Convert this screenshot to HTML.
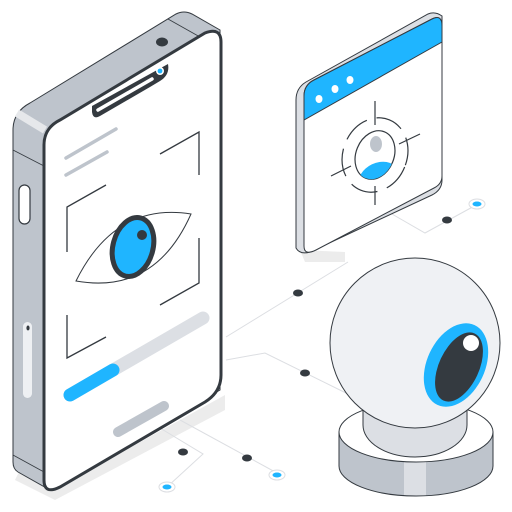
<!DOCTYPE html>
<html><head><style>html,body{margin:0;padding:0;background:#fff}svg{display:block}</style></head>
<body>
<svg width="512" height="512" viewBox="0 0 512 512" xmlns="http://www.w3.org/2000/svg">
<!-- shadows -->
<path d="M20 470 L50 492 L225 395 L225 410 L55 500 L15 480 Z" fill="#ececec"/>
<path d="M300 250 L345 252 L345 262 L305 262 Z" fill="#ececec"/>
<!-- connectors -->
<g fill="none" stroke="#dcdee2" stroke-width="1">
<path d="M226 337 L348 262"/>
<path d="M226 360 L265 353 L350 395"/>
<path d="M155 425 L203 454 L167 487"/>
<path d="M180 420 L277 473"/>
<path d="M385 210 L425 233 L478 204"/>
</g>
<g fill="#343a40"><ellipse cx="298" cy="293" rx="5" ry="3.5"/><ellipse cx="305" cy="373" rx="5" ry="3.5"/><ellipse cx="183" cy="452" rx="5" ry="3.5"/><ellipse cx="247" cy="458" rx="5" ry="3.5"/><ellipse cx="447" cy="220" rx="5" ry="3.5"/></g>
<g><ellipse cx="167" cy="487" rx="8" ry="5" fill="#fff" stroke="#dcdee2"/><ellipse cx="167" cy="487" rx="4.5" ry="2.5" fill="#1fb5ff"/>
<ellipse cx="277" cy="475" rx="8" ry="5" fill="#fff" stroke="#dcdee2"/><ellipse cx="277" cy="475" rx="4.5" ry="2.5" fill="#1fb5ff"/>
<ellipse cx="477" cy="204" rx="8" ry="5" fill="#fff" stroke="#dcdee2"/><ellipse cx="477" cy="204" rx="4.5" ry="2.5" fill="#1fb5ff"/></g>
<!-- phone body -->
<path d="M13 130 Q13 112 30 103 L176 14 Q184 10 192 14 L220 30 L220 390 L50 490 L18 472 Q13 469 13 462 Z" fill="#bec4cc" stroke="#343a40" stroke-width="1"/>
<path d="M17 113 L45 130" stroke="#e6e8eb" stroke-width="8"/>
<path d="M168 19 L200 37" stroke="#343a40" stroke-width="0.8"/>
<path d="M13 150 L44 166 M13 455 L44 472" stroke="#343a40" stroke-width="0.8"/>
<ellipse cx="162" cy="42" rx="6" ry="4.5" fill="#343a40"/>
<rect x="19" y="185" width="11" height="39" rx="5.5" fill="#fff" stroke="#343a40" stroke-width="1.2"/>
<rect x="23" y="322" width="9" height="76" rx="4.5" fill="#eef0f3"/>
<ellipse cx="28" cy="328" rx="1.6" ry="2.5" fill="#343a40"/>
<!-- front face -->
<path d="M44 145 Q44 128 60 120 L205 33 Q221 27 221 42 L221 375 Q221 392 205 402 L60 487 Q44 495 44 480 Z" fill="#fff" stroke="#343a40" stroke-width="3"/>
<path d="M92 106 L92 112 Q93 120 100 116 L150 87 L160 81 Q170 75 168 64 L92 106 Z" fill="#343a40"/>
<path d="M98 110 L152 79" stroke="#fff" stroke-width="3.5" stroke-linecap="round"/>
<circle cx="160" cy="71" r="4" fill="#fff"/><circle cx="160" cy="71" r="2.4" fill="#1fb5ff"/>
<g stroke="#bec4cc" stroke-width="3.5" stroke-linecap="round"><path d="M66 158 L116 129"/><path d="M66 175 L107 152"/></g>
<g fill="none" stroke="#343a40" stroke-width="1.3">
<path d="M106 185 L67 207 L67 252"/><path d="M160 154 L199 132 L199 175"/>
<path d="M67 315 L67 358 L106 337"/><path d="M199 238 L199 283 L160 305"/>
</g>
<path d="M76 281 Q115 202 191 214 Q155 295 76 281 Z" fill="#fff" stroke="#343a40" stroke-width="1"/>
<ellipse cx="133" cy="247" rx="20" ry="30" transform="rotate(15 133 247)" fill="#1fb5ff" stroke="#343a40" stroke-width="5"/>
<circle cx="142" cy="235" r="5" fill="#343a40"/>
<path d="M70 395 L203 318" stroke="#dcdfe4" stroke-width="13" stroke-linecap="round"/>
<path d="M70 395 L113 370" stroke="#1fb5ff" stroke-width="13" stroke-linecap="round"/>
<path d="M118 432 L164 406" stroke="#bec4cc" stroke-width="10" stroke-linecap="round"/>
<!-- window -->
<path d="M296 100 Q296 88 306 82 L428 14 Q435 11 442 16 L442 180 Q442 190 432 195 L310 252 Q300 255 296 248 Z" fill="#dcdfe4" stroke="#343a40" stroke-width="1"/>
<path d="M304 96 Q304 85 314 80 L432 19 Q442 14 442 26 L442 176 Q442 184 434 188 L316 250 Q304 256 304 246 Z" fill="#fff" stroke="#343a40" stroke-width="1"/>
<path d="M304 96 Q304 85 314 80 L432 19 Q442 14 442 26 L442 42 L304 120 Z" fill="#1fb5ff" stroke="#343a40" stroke-width="1"/>
<g fill="#fff"><ellipse cx="319" cy="99" rx="3.5" ry="4"/><ellipse cx="335" cy="89" rx="3.5" ry="4"/><ellipse cx="350" cy="80" rx="3.5" ry="4"/></g>
<g fill="none" stroke="#343a40" stroke-width="1.2">
<ellipse cx="375" cy="155" rx="32" ry="38" transform="rotate(22 375 155)" stroke-dasharray="28 10"/>
<path d="M375 101 L375 125 M375 186 L375 205 M331 176 L351 166 M399 144 L420 134"/>
</g>
<ellipse cx="375" cy="155" rx="19" ry="25" transform="rotate(22 375 155)" fill="#fff" stroke="#343a40" stroke-width="1.2"/>
<clipPath id="c"><ellipse cx="375" cy="155" rx="19" ry="25" transform="rotate(22 375 155)"/></clipPath>
<g clip-path="url(#c)"><ellipse cx="378" cy="177" rx="20" ry="14" transform="rotate(-25 378 177)" fill="#1fb5ff"/></g>
<ellipse cx="376" cy="144" rx="6" ry="8" fill="#bec4cc"/>
<!-- webcam -->
<clipPath id="b"><path d="M339 432 L339 466 A77 30 0 0 0 493 466 L493 432 Z"/></clipPath>
<path d="M339 432 L339 466 A77 30 0 0 0 493 466 L493 432 Z" fill="#bec4cc"/>
<rect x="404" y="440" width="22" height="60" fill="#dcdfe4" clip-path="url(#b)"/>
<path d="M339 432 L339 466 A77 30 0 0 0 493 466 L493 432 Z" fill="none" stroke="#343a40" stroke-width="1"/>
<ellipse cx="416" cy="432" rx="77" ry="30" fill="#fff" stroke="#343a40" stroke-width="1"/>
<path d="M363 380 L363 425 A52 32 0 0 0 467 425 L467 380 Z" fill="#dcdfe4" stroke="#343a40" stroke-width="1"/>
<circle cx="415" cy="343" r="85" fill="#eff1f4" stroke="#343a40" stroke-width="1"/>
<ellipse cx="456" cy="365" rx="29" ry="44" transform="rotate(25 456 365)" fill="#1fb5ff"/>
<ellipse cx="459" cy="367" rx="20" ry="37" transform="rotate(25 459 367)" fill="#343a40"/>
<circle cx="471" cy="343" r="8" fill="#fff"/>
</svg>
</body></html>
